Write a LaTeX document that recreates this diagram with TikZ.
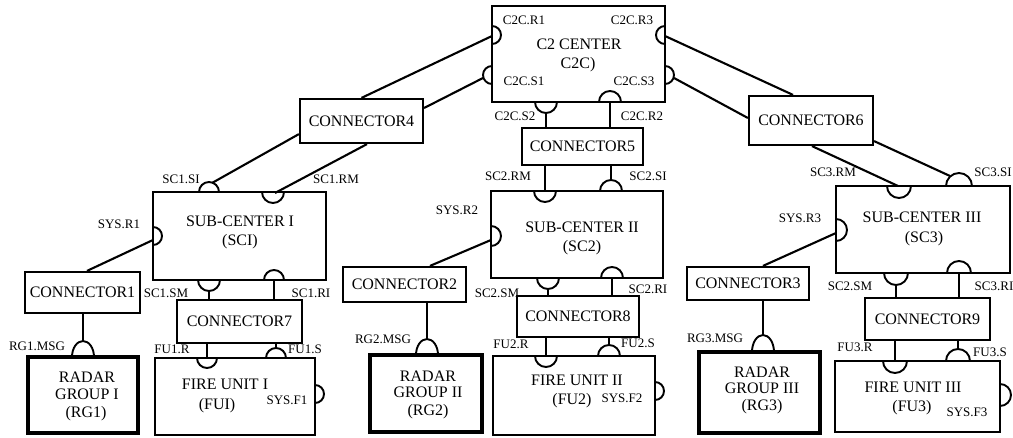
\documentclass[tikz,border=0pt]{standalone}
\usepackage{fontspec}
\setmainfont{Liberation Serif}
\newcommand\mainf{\fontsize{16}{19}\selectfont}
\newcommand\labf{\fontsize{13}{15}\selectfont}
\newcommand\arcU[3]{\draw[port] (#1-#3,#2) arc[start angle=180,end angle=0,radius=#3pt];}
\newcommand\arcD[3]{\draw[port] (#1-#3,#2) arc[start angle=180,end angle=360,radius=#3pt];}
\newcommand\arcR[3]{\draw[port] (#1,#2-#3) arc[start angle=90,end angle=-90,radius=#3pt];}
\newcommand\arcL[3]{\draw[port] (#1,#2-#3) arc[start angle=90,end angle=270,radius=#3pt];}
\newcommand\arcH[4]{\draw[port] (#1-#3,#2) arc[start angle=180,end angle=0,x radius=#3pt,y radius=#4pt];}
\tikzset{
  bx/.style 2 args={draw, line width=2.2pt, inner sep=0pt, minimum width=#1pt, minimum height=#2pt, font=\mainf, align=center},
  rgbox/.style={line width=3.2pt},
  fubox/.style={line width=2.6pt},
  lnk/.style={line width=2.1pt},
  port/.style={line width=1.9pt},
  lab/.style={font=\labf, inner sep=0pt, anchor=base},
  txt/.style={font=\mainf, inner sep=0pt, anchor=base},
}
\begin{document}
\begin{tikzpicture}[x=1pt,y=-1pt]
\useasboundingbox (0,0) rectangle (1013,438);
\fill[white] (0,0) rectangle (1013,438);

% ---- boxes
\node[bx={173}{96}, line width=2.6pt] (c2c) at (578.5,54) {};
\node[bx={123}{44}] (c4) at (361.5,121) {CONNECTOR4};
\node[bx={121}{37}] (c5) at (582.5,146.5) {CONNECTOR5};
\node[bx={124}{49}] (c6) at (811,120.5) {CONNECTOR6};
\node[bx={173}{88}] (sc1) at (239.5,236) {};
\node[bx={172}{87}] (sc2) at (577,234.5) {};
\node[bx={174}{87}] (sc3) at (923,229.5) {};
\node[bx={115}{41}] (c1) at (82.5,292.5) {CONNECTOR1};
\node[bx={123}{35}] (c2) at (404.5,284.5) {CONNECTOR2};
\node[bx={122}{33}] (c3) at (748,283.5) {CONNECTOR3};
\node[bx={125}{43}] (c7) at (239.5,321.5) {CONNECTOR7};
\node[bx={122}{41}] (c8) at (578,316.5) {CONNECTOR8};
\node[bx={125}{42}] (c9) at (927.5,319) {CONNECTOR9};
\node[bx={110}{76}, rgbox] (rg1) at (83,395) {};
\node[bx={112}{77}, rgbox] (rg2) at (426,393.5) {};
\node[bx={121}{81}, rgbox] (rg3) at (759.5,392.5) {};
\node[bx={160}{77}, fubox] (fu1) at (235,396.5) {};
\node[bx={162}{79}, fubox] (fu2) at (574,395.5) {};
\node[bx={165}{71}, fubox] (fu3) at (917.5,396.5) {};

% ---- box texts
\node[txt] (t1) at (579,50) {C2 CENTER};
\node[txt] (t2) at (578,69) {C2C)};
\node[txt] (t3) at (240,227) {SUB-CENTER I};
\node[txt] (t4) at (240,246) {(SCI)};
\node[txt] (t5) at (582,233) {SUB-CENTER II};
\node[txt] (t6) at (582,252) {(SC2)};
\node[txt] (t7) at (922,223) {SUB-CENTER III};
\node[txt] (t8) at (924,243) {(SC3)};
\node[txt] (t9) at (87,383) {RADAR};
\node[txt] (t10) at (87,400) {GROUP I};
\node[txt] (t11) at (86,418) {(RG1)};
\node[txt] (t12) at (428,382) {RADAR};
\node[txt] (t13) at (428,398) {GROUP II};
\node[txt] (t14) at (428,416) {(RG2)};
\node[txt] (t15) at (762,378) {RADAR};
\node[txt] (t16) at (762,394) {GROUP III};
\node[txt] (t17) at (762,411) {(RG3)};
\node[txt] (t18) at (225,390) {FIRE UNIT I};
\node[txt] (t19) at (217,410) {(FUI)};
\node[txt] (t20) at (577,386) {FIRE UNIT II};
\node[txt] (t21) at (572,405) {(FU2)};
\node[txt] (t22) at (913,393) {FIRE UNIT III};
\node[txt] (t23) at (912,412) {(FU3)};

% ---- ports
\arcR{492}{35}{9}   \arcL{665}{35}{9}
\arcL{492}{75}{9}   \arcR{665}{75}{9}
\arcD{546}{102}{11} \arcU{610}{102}{11}
\arcU{209}{192}{10} \arcD{273}{192}{11}
\arcR{153}{236}{9}
\arcD{209}{280}{11} \arcU{274}{280}{10}
\arcD{207}{358}{10} \arcU{276}{358}{10}
\arcR{315}{394}{9}
\arcH{83}{357}{11}{16}
\arcD{545}{191}{11} \arcU{611}{191}{11}
\arcR{491}{236}{10}
\arcD{548}{278}{11} \arcU{612}{278}{11}
\arcD{546}{356}{11} \arcU{609}{356}{11}
\arcR{655}{391}{9}
\arcH{427}{355}{11}{16}
\arcD{899}{186}{12} \arcU{959}{186}{13}
\arcR{836}{230}{11}
\arcD{896}{273}{12} \arcU{959}{273}{12}
\arcD{895}{361}{12} \arcU{958}{361}{12}
\arcR{1000}{395}{11}
\arcH{763}{352}{11}{17}

% ---- port attach points
\coordinate (c2cR1) at (492,36);
\coordinate (c2cS1) at (483,78);
\coordinate (c2cR3) at (665,36);
\coordinate (c2cS3) at (674,78);
\coordinate (c2cS2) at (546,113);
\coordinate (c2cR2) at (610,102);
\coordinate (sc1SI) at (212,183);
\coordinate (sc1RM) at (275,193);
\coordinate (sysR1) at (153,240);
\coordinate (sc1SM) at (209,291);
\coordinate (sc1RI) at (274,280);
\coordinate (fu1R) at (207,358);
\coordinate (fu1S) at (276,348);
\coordinate (rg1M) at (83,341);
\coordinate (sc2RM) at (545,191);
\coordinate (sc2SI) at (611,180);
\coordinate (sysR2) at (491,240);
\coordinate (sc2SM) at (548,289);
\coordinate (sc2RI) at (612,278);
\coordinate (fu2R) at (546,356);
\coordinate (fu2S) at (609,345);
\coordinate (rg2M) at (427,339);
\coordinate (sc3RM) at (898,186);
\coordinate (sc3SI) at (950,176);
\coordinate (sysR3) at (836,233);
\coordinate (sc3SM) at (896,285);
\coordinate (sc3RI) at (959,273);
\coordinate (fu3R) at (895,361);
\coordinate (fu3S) at (958,349);
\coordinate (rg3M) at (763,335);

% ---- links
\draw[lnk] (c2cR1) -- (c4.north);
\draw[lnk] (c2cS1) -- ([yshift=13pt]c4.east);
\draw[lnk] ([yshift=10pt]c4.south west) -- (sc1SI);
\draw[lnk] ([xshift=5.5pt]c4.south) -- (sc1RM);
\draw[lnk] (c2cS2) -- (c5.north -| c2cS2);
\draw[lnk] (c2cR2) -- (c5.north -| c2cR2);
\draw[lnk] (c5.south -| sc2RM) -- (sc2RM);
\draw[lnk] (c5.south -| sc2SI) -- (sc2SI);
\draw[lnk] (c2cR3) -- ([xshift=-18pt]c6.north);
\draw[lnk] (c2cS3) -- ([yshift=2.5pt]c6.west);
\draw[lnk] ([xshift=1pt]c6.south) -- (sc3RM);
\draw[lnk] ([yshift=5pt]c6.south east) -- (sc3SI);
\draw[lnk] (sysR1) -- ([xshift=4.5pt]c1.north);
\draw[lnk] (sysR2) -- ([xshift=25.5pt]c2.north);
\draw[lnk] (sysR3) -- ([xshift=15pt]c3.north);
\draw[lnk] (c1.south -| rg1M) -- (rg1M);
\draw[lnk] (c2.south -| rg2M) -- (rg2M);
\draw[lnk] (c3.south -| rg3M) -- (rg3M);
\draw[lnk] (sc1SM) -- (c7.north -| sc1SM);
\draw[lnk] (sc1RI) -- (c7.north -| sc1RI);
\draw[lnk] (c7.south -| fu1R) -- (fu1R);
\draw[lnk] (c7.south -| fu1S) -- (fu1S);
\draw[lnk] (sc2SM) -- (c8.north -| sc2SM);
\draw[lnk] (sc2RI) -- (c8.north -| sc2RI);
\draw[lnk] (c8.south -| fu2R) -- (fu2R);
\draw[lnk] (c8.south -| fu2S) -- (fu2S);
\draw[lnk] (sc3SM) -- (c9.north -| sc3SM);
\draw[lnk] (sc3RI) -- (c9.north -| sc3RI);
\draw[lnk] (c9.south -| fu3R) -- (fu3R);
\draw[lnk] (c9.south -| fu3S) -- (fu3S);

% ---- port labels
\node[lab] (l1) at (524,25) {C2C.R1};
\node[lab] (l2) at (632,25) {C2C.R3};
\node[lab] (l3) at (524,86) {C2C.S1};
\node[lab] (l4) at (634,86) {C2C.S3};
\node[lab] (l5) at (515,121) {C2C.S2};
\node[lab] (l6) at (642,121) {C2C.R2};
\node[lab] (l7) at (181,184) {SC1.SI};
\node[lab] (l8) at (336,184) {SC1.RM};
\node[lab] (l9) at (119,229) {SYS.R1};
\node[lab] (l10) at (166,298) {SC1.SM};
\node[lab] (l11) at (311,298) {SC1.RI};
\node[lab] (l12) at (172,354) {FU1.R};
\node[lab] (l13) at (305,354) {FU1.S};
\node[lab] (l14) at (37,351) {RG1.MSG};
\node[lab] (l15) at (287,405) {SYS.F1};
\node[lab] (l16) at (508,181) {SC2.RM};
\node[lab] (l17) at (648,181) {SC2.SI};
\node[lab] (l18) at (457,215) {SYS.R2};
\node[lab] (l19) at (497,298) {SC2.SM};
\node[lab] (l20) at (648,294) {SC2.RI};
\node[lab] (l21) at (511,349) {FU2.R};
\node[lab] (l22) at (638,348) {FU2.S};
\node[lab] (l23) at (383,344) {RG2.MSG};
\node[lab] (l24) at (622,403) {SYS.F2};
\node[lab] (l25) at (833,177) {SC3.RM};
\node[lab] (l26) at (993,177) {SC3.SI};
\node[lab] (l27) at (800,223) {SYS.R3};
\node[lab] (l28) at (850,291) {SC2.SM};
\node[lab] (l29) at (994,291) {SC3.RI};
\node[lab] (l30) at (855,352) {FU3.R};
\node[lab] (l31) at (990,357) {FU3.S};
\node[lab] (l32) at (715,343) {RG3.MSG};
\node[lab] (l33) at (967,417) {SYS.F3};
\end{tikzpicture}
\end{document}
